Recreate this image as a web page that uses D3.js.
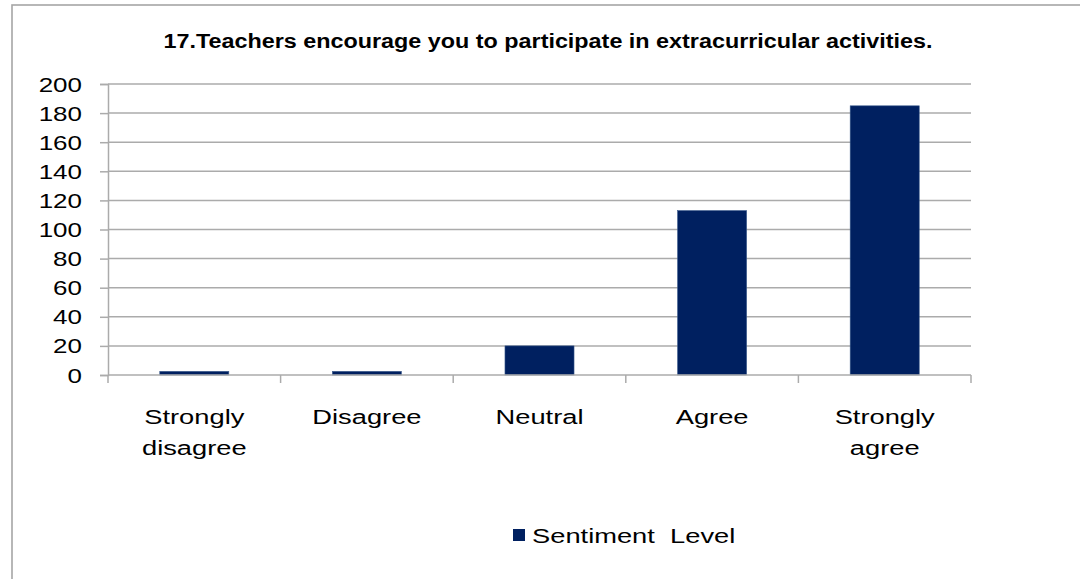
<!DOCTYPE html>
<html>
<head>
<meta charset="utf-8">
<script src="https://cdn.jsdelivr.net/npm/d3@7"></script>
<style>
  html, body { margin: 0; padding: 0; background: #fff; }
  svg { display: block; }
  text { font-family: "Liberation Sans", Arial, sans-serif; fill: #000; }
</style>
</head>
<body>
<svg id="chart" width="1080" height="579"></svg>
<script>
const categories = [["Strongly", "disagree"], ["Disagree"], ["Neutral"], ["Agree"], ["Strongly", "agree"]];
const values = [2.5, 2.5, 20, 113, 185];
const yTicks = [0, 20, 40, 60, 80, 100, 120, 140, 160, 180, 200];
const seriesName = "Sentiment  Level";
const title = "17.Teachers encourage you to participate in extracurricular activities.";

const svg = d3.select("#chart");
const W = 1080, H = 579;
const plot = { left: 108, right: 971, top: 84, bottom: 375 };
const barColor = "#002060";
const gridColor = "#ababab";
const stretch = 1.3;

// outer frame
svg.append("rect").attr("x", 12).attr("y", 5).attr("width", W + 20).attr("height", H + 20)
  .attr("fill", "#fff").attr("stroke", "#a6a6a6").attr("stroke-width", 1.6);

// title
svg.append("text").attr("x", 548).attr("y", 48).attr("text-anchor", "middle")
  .attr("font-size", 20).attr("font-weight", "bold")
  .attr("textLength", 769).attr("lengthAdjust", "spacingAndGlyphs")
  .text(title);

const x = d3.scaleBand().domain(d3.range(categories.length)).range([plot.left, plot.right]).padding(0);
const y = d3.scaleLinear().domain([0, 200]).range([plot.bottom, plot.top]);

// gridlines
svg.append("g").selectAll("line").data(yTicks.filter(d => d > 0)).join("line")
  .attr("x1", plot.left).attr("x2", plot.right)
  .attr("y1", d => y(d)).attr("y2", d => y(d))
  .attr("stroke", gridColor).attr("stroke-width", 1.5);

// y axis
const yAxis = d3.axisLeft(y).tickValues(yTicks).tickSize(8).tickFormat(d3.format("d"));
const gy = svg.append("g").attr("transform", `translate(${plot.left},0)`).call(yAxis);
gy.select(".domain").attr("stroke", gridColor).attr("stroke-width", 1.5);
gy.selectAll(".tick line").attr("stroke", gridColor).attr("stroke-width", 1.5);
gy.selectAll(".tick text").remove();
gy.selectAll(".tick").append("text")
  .attr("transform", `translate(-26,7) scale(${stretch},1)`)
  .attr("text-anchor", "end").attr("font-size", 20).attr("fill", "#000")
  .text(d => d);

// bars
const barW = x.bandwidth() * 0.4;
svg.append("g").selectAll("rect").data(values).join("rect")
  .attr("x", (d, i) => x(i) + (x.bandwidth() - barW) / 2)
  .attr("width", barW)
  .attr("y", d => y(d))
  .attr("height", d => y(0) - y(d))
  .attr("fill", barColor)
  .attr("stroke", "#3a5a8c").attr("stroke-width", 0.6);

// x axis
const gx = svg.append("g").attr("transform", `translate(0,${plot.bottom})`);
gx.append("line").attr("x1", plot.left).attr("x2", plot.right).attr("y1", 0).attr("y2", 0)
  .attr("stroke", gridColor).attr("stroke-width", 1.5);
const bounds = d3.range(categories.length).map(i => x(i)).concat([x(categories.length - 1) + x.bandwidth()]);
gx.selectAll("line.tk").data(bounds).join("line").attr("class", "tk")
  .attr("x1", d => d).attr("x2", d => d).attr("y1", 0).attr("y2", 8)
  .attr("stroke", gridColor).attr("stroke-width", 1.5);

// category labels
const lab = svg.append("g").selectAll("g").data(categories).join("g")
  .attr("transform", (d, i) => `translate(${x(i) + x.bandwidth() / 2},424)`);
lab.each(function(lines) {
  const g = d3.select(this);
  lines.forEach((t, j) => {
    g.append("text").attr("transform", `translate(0,${j * 31}) scale(${stretch},1)`)
      .attr("text-anchor", "middle").attr("font-size", 21).text(t);
  });
});

// legend
svg.append("rect").attr("x", 513).attr("y", 529).attr("width", 12).attr("height", 12).attr("fill", barColor);
svg.append("text").attr("transform", `translate(532,543) scale(${stretch},1)`)
  .attr("font-size", 21).attr("xml:space", "preserve").style("white-space", "pre").text(seriesName);
</script>
</body>
</html>
